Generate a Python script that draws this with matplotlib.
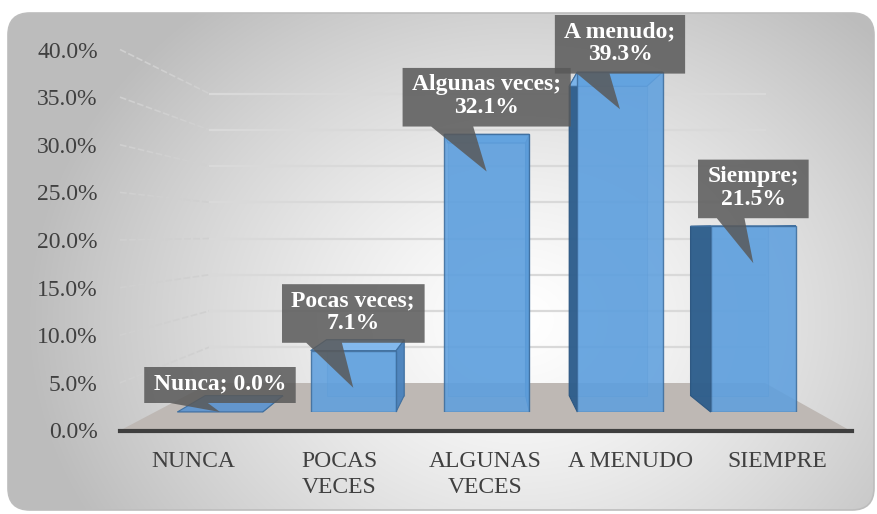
import numpy as np
import matplotlib.pyplot as plt
from matplotlib.patches import Polygon, FancyBboxPatch
from matplotlib.lines import Line2D
from matplotlib.transforms import IdentityTransform

plt.rcParams["font.family"] = ["Liberation Serif", "DejaVu Serif"]

# ==============================
# data
# ==============================
categories = ["NUNCA", "POCAS\nVECES", "ALGUNAS\nVECES", "A MENUDO", "SIEMPRE"]
series_names = ["Nunca", "Pocas veces", "Algunas veces", "A menudo", "Siempre"]
values = [0.0, 7.1, 32.1, 39.3, 21.5]
y_ticks = [0, 5, 10, 15, 20, 25, 30, 35, 40]

# ==============================
# figure / layout (pixels)
# ==============================
W, H = 878, 514
fig = plt.figure(figsize=(W / 100, H / 100), dpi=100)


def add_px_axes(left, top, right, bottom, z):
    ax = fig.add_axes([left / W, 1 - bottom / H, (right - left) / W, (bottom - top) / H], zorder=z)
    ax.patch.set_visible(False)
    ax.set_xlim(-0.5, 4.5)
    ax.set_ylim(0, 40)
    return ax


def px(ax, x, y):
    return ax.transData.transform((x, y))


def add_poly(points, z, **kw):
    fig.add_artist(Polygon(points, closed=True, transform=IdentityTransform(), zorder=z, **kw))


def add_line(p0, p1, z, **kw):
    fig.add_artist(Line2D([p0[0], p1[0]], [p0[1], p1[1]], transform=IdentityTransform(), zorder=z, **kw))


# background with radial gradient inside rounded frame
ax_bg = fig.add_axes([0, 0, 1, 1], zorder=0)
ax_bg.set_xlim(0, W)
ax_bg.set_ylim(H, 0)
ax_bg.axis("off")
frame = FancyBboxPatch((8, 13), 866, 497, boxstyle="round,pad=0,rounding_size=22",
                       facecolor="none", edgecolor="#BDBDBD", linewidth=1.2)
ax_bg.add_patch(frame)
yy, xx = np.mgrid[0:H, 0:W]
r = np.hypot((xx - 520) / 410, (yy - 320) / 340)
shade = 1 - 0.26 * np.clip(r / 1.2, 0, 1) ** 1.3
img = ax_bg.imshow(np.dstack([shade] * 3), extent=(0, W, H, 0), interpolation="bilinear")
img.set_clip_path(frame)

# three depth planes: front (axis labels), bars, back wall
ax_front = add_px_axes(120, 49.5, 850, 430.5, 0.6)
ax_bar = add_px_axes(153.3, 66, 820, 412, 2)
ax_back = add_px_axes(210, 94, 765, 383, 0.4)
ax_back.axis("off")
ax_bar.axis("off")

# axis labels on the front plane
ax_front.set_yticks(y_ticks)
ax_front.set_yticklabels([f"{v:.1f}%" for v in y_ticks], fontsize=17, color="#404040")
ax_front.set_xticks(range(len(categories)))
ax_front.set_xticklabels(categories, fontsize=17, color="#404040", linespacing=1.3)
ax_front.tick_params(axis="y", length=0, pad=16)
ax_front.tick_params(axis="x", length=0, pad=15)
for s in ax_front.spines.values():
    s.set_visible(False)

# floor
add_poly([px(ax_front, -0.5, 0), px(ax_front, 4.5, 0), px(ax_back, 4.5, 0), px(ax_back, -0.5, 0)],
         0.45, facecolor="#BEB8B4", edgecolor="none")

# gridlines: side wall (diagonal) + back wall (horizontal)
for v in y_ticks[1:]:
    f = px(ax_front, -0.5, v)
    b = px(ax_back, -0.5, v)
    e = px(ax_back, 4.5, v)
    add_line(f, b, 0.5, color="#D0D0D0", linewidth=1.2, linestyle=(0, (4, 1.5)))
    add_line(b, e, 0.5, color="#D9D9D9", linewidth=1.6)

# front axis line
p0 = px(ax_front, -0.5, 0)
p1 = px(ax_front, 4.5, 0)
add_line(p0, (p1[0] + 2, p1[1]), 0.7, color="#3F3F3F", linewidth=3)

# ==============================
# bars (front faces via matplotlib bar, 3D sides derived from them)
# ==============================
bar_w = 0.64
ax_bar.bar(range(len(values)), values, width=bar_w, color="#5FA0DE", alpha=0.88,
           edgecolor="#3E6E9E", linewidth=1)

vp = np.array([487.0, H - 230.0])
depth = 0.91


def back(p):
    return vp + depth * (np.asarray(p) - vp)


for i, v in enumerate(values):
    fl_b = px(ax_bar, i - bar_w / 2, 0)
    fr_b = px(ax_bar, i + bar_w / 2, 0)
    fl_t = px(ax_bar, i - bar_w / 2, v)
    fr_t = px(ax_bar, i + bar_w / 2, v)
    bl_b, br_b, bl_t, br_t = back(fl_b), back(fr_b), back(fl_t), back(fr_t)

    # back face outline (seen through the front)
    add_poly([bl_b, br_b, br_t, bl_t], 1.0, facecolor="#5FA0DE", alpha=0.35,
             edgecolor="#3E6E9E", linewidth=0.8)
    # side facing the vanishing point
    if (fl_b[0] + fr_b[0]) / 2 > vp[0]:
        add_poly([fl_b, fl_t, bl_t, bl_b], 1.1, facecolor="#2D5D8B", edgecolor="#2A5580",
                 linewidth=0.8, alpha=0.95)
    else:
        add_poly([fr_b, fr_t, br_t, br_b], 1.1, facecolor="#4A82BC", edgecolor="#3E6E9E",
                 linewidth=0.8, alpha=0.95)
    # top face
    add_poly([fl_t, fr_t, br_t, bl_t], 1.2, facecolor="#5E95CF" if v == 0 else "#80B8EE",
             edgecolor="#3E6E9E", linewidth=0.8, alpha=0.95)

# ==============================
# data callouts
# ==============================
renderer = fig.canvas.get_renderer()
for i, (name, v) in enumerate(zip(series_names, values)):
    label = f"{name}; {v:.1f}%" if v == 0 else f"{name};\n{v:.1f}%"
    tip = px(ax_bar, i, max(v - 4.3, 0))
    t = fig.text(0, 0, label, transform=IdentityTransform(), ha="center", va="center",
                 fontsize=17, fontweight="bold", color="white", linespacing=1.1, zorder=3.1)
    ext = t.get_window_extent(renderer)
    bw = ext.width + 19
    bh = ext.height + 15
    gap = 45 if v > 0 else 9
    bottom = tip[1] + gap
    top = min(bottom + bh, H - 15)
    bottom = top - bh
    left = tip[0] - bw / 2
    right = left + bw
    t.set_position((tip[0], (bottom + top) / 2 + 1))
    add_poly([(left, bottom), (left + 0.17 * bw, bottom), tip, (left + 0.42 * bw, bottom),
              (right, bottom), (right, top), (left, top)],
             3.0, facecolor="#595959", alpha=0.85, edgecolor="none")

fig.savefig("out.png", dpi=100)
